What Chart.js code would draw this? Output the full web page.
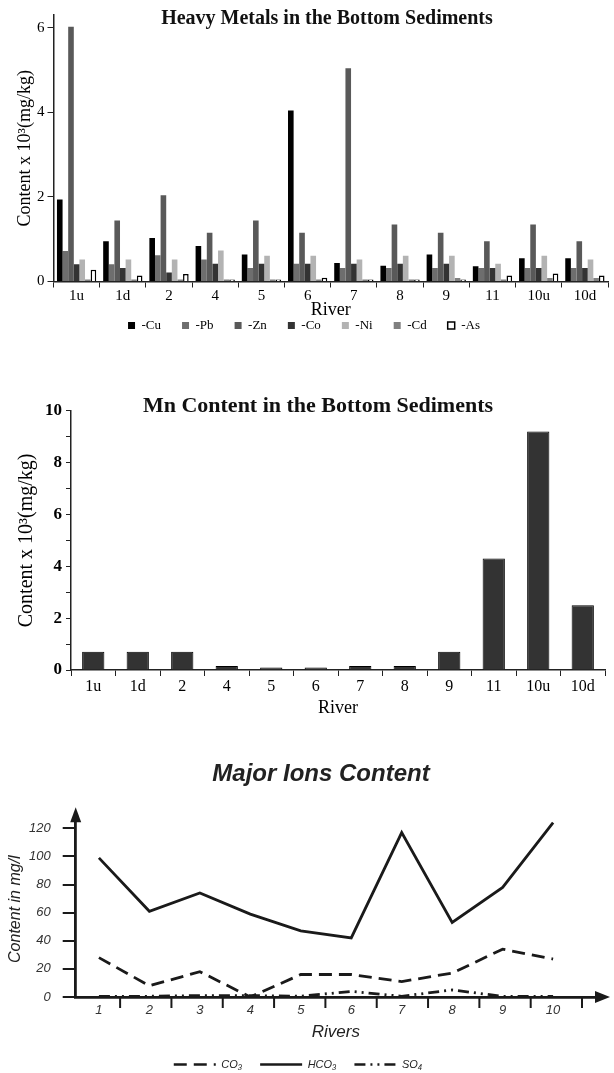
<!DOCTYPE html>
<html>
<head>
<meta charset="utf-8">
<script src="https://cdn.jsdelivr.net/npm/chart.js@4.4.0/dist/chart.umd.min.js"></script>
<style>
  body { margin: 0; background: #fff; width: 614px; height: 1073px; position: relative; overflow: hidden; }
  canvas { position: absolute; left: 0; }
  .ttl { position: absolute; white-space: nowrap; transform: translate(-50%, -50%); color: #111; }
  #t1 { left: 327px; top: 17px; font: bold 20px "Liberation Serif", serif; }
  #t2 { left: 318px; top: 405px; font: bold 22px "Liberation Serif", serif; }
  #t3 { left: 321px; top: 773px; font: italic bold 24px "Liberation Sans", sans-serif; color: #222; }
</style>
</head>
<body>
<canvas id="c1" width="614" height="342" style="top:0"></canvas>
<canvas id="c2" width="614" height="380" style="top:340px"></canvas>
<canvas id="c3" width="614" height="362" style="top:718px"></canvas>
<div class="ttl" id="t1">Heavy Metals in the Bottom Sediments</div>
<div class="ttl" id="t2">Mn Content in the Bottom Sediments</div>
<div class="ttl" id="t3">Major Ions Content</div>
<script>
// ─── Data ────────────────────────────────────────────────────────────────────
const rivers = ["1u", "1d", "2", "4", "5", "6", "7", "8", "9", "11", "10u", "10d"];
const metalNames = ["Cu", "Pb", "Zn", "Co", "Ni", "Cd", "As"];
const cuVals = [1.94, 0.95, 1.03, 0.84, 0.64, 4.04, 0.44, 0.37, 0.64, 0.36, 0.55, 0.55];
const pbVals = [0.72, 0.41, 0.62, 0.52, 0.32, 0.42, 0.32, 0.32, 0.32, 0.32, 0.32, 0.32];
const znVals = [6.02, 1.44, 2.04, 1.15, 1.44, 1.15, 5.04, 1.35, 1.15, 0.95, 1.35, 0.95];
const coVals = [0.41, 0.32, 0.21, 0.42, 0.42, 0.42, 0.42, 0.42, 0.42, 0.32, 0.32, 0.32];
const niVals = [0.52, 0.52, 0.52, 0.73, 0.61, 0.61, 0.52, 0.61, 0.61, 0.42, 0.61, 0.52];
const cdVals = [0.05, 0.05, 0.05, 0.05, 0.05, 0.05, 0.05, 0.05, 0.08, 0.05, 0.08, 0.08];
const asVals = [0.28, 0.14, 0.18, 0.05, 0.05, 0.09, 0.05, 0.05, 0.05, 0.14, 0.19, 0.14];

const mnVals = [0.7, 0.7, 0.7, 0.15, 0.1, 0.1, 0.15, 0.15, 0.7, 4.3, 9.2, 2.5];

const ionRivers = [1, 2, 3, 4, 5, 6, 7, 8, 9, 10];
const co3Vals  = [28, 8, 18, 0, 16, 16, 11, 17, 34, 27];
const hco3Vals = [99, 61, 74, 59, 47, 42, 117, 53, 78, 124];
const so4Vals  = [0.5, 0.5, 1, 1, 0.5, 4, 0.5, 5, 0.5, 0.5];

// ─── Shared ──────────────────────────────────────────────────────────────────
const SERIF = "'Liberation Serif', 'Times New Roman', serif";
const SANS  = "'Liberation Sans', Arial, sans-serif";
Chart.defaults.color = "#111";
Chart.defaults.animation = false;
Chart.defaults.plugins.tooltip.enabled = false;

const metalColors = ["#000000", "#6e6e6e", "#595959", "#333333", "#b3b3b3", "#808080", "#ffffff"];
const metalSeries = [cuVals, pbVals, znVals, coVals, niVals, cdVals, asVals];

// ─── Heavy metals ────────────────────────────────────────────────────────────
new Chart(document.getElementById("c1"), {
  type: "bar",
  data: {
    labels: rivers,
    datasets: metalNames.map((name, i) => ({
      label: name,
      data: metalSeries[i],
      backgroundColor: metalColors[i],
      borderColor: "#000",
      borderWidth: name === "As" ? 1.5 : 0,
      barPercentage: 1,
      categoryPercentage: 0.85
    }))
  },
  options: {
    responsive: false,
    devicePixelRatio: 1,
    layout: { padding: { top: 15, right: 6, left: 0, bottom: 0 } },
    plugins: {
      legend: {
        position: "bottom",
        labels: {
          color: "#000",
          font: { family: SERIF, size: 13 },
          boxWidth: 7, boxHeight: 7, padding: 21,
          generateLabels(chart) {
            return Chart.defaults.plugins.legend.labels.generateLabels(chart)
              .map(l => ({ ...l, text: "-" + l.text }));
          }
        }
      }
    },
    scales: {
      x: {
        // short box so the legend sits close; labels are allowed to overflow it
        afterFit(s) { s.height = 16.5; s._computeLabelArea = () => undefined; },
        grid: { display: true, drawOnChartArea: false, offset: true, tickLength: 6, color: "#222" },
        border: { display: true, color: "#222", width: 1.5 },
        ticks: { font: { family: SERIF, size: 15 }, color: "#000", padding: 0 },
        title: { display: true, text: "River", font: { family: SERIF, size: 18 }, color: "#000",
                 padding: { top: 0, bottom: -22.8 } }
      },
      y: {
        min: 0, max: 6.3,
        afterFit(s) { s.width = 53.5; },
        grid: { display: true, drawOnChartArea: false, tickLength: 6, color: "#222" },
        border: { display: true, color: "#222", width: 1.5 },
        ticks: { stepSize: 2, includeBounds: false, font: { family: SERIF, size: 15 }, color: "#000", padding: 3 },
        title: { display: true, text: "Content x 10³(mg/kg)", font: { family: SERIF, size: 18 }, color: "#000",
                 padding: { top: 14.7, bottom: 0 } }
      }
    }
  }
});

// ─── Mn ──────────────────────────────────────────────────────────────────────
new Chart(document.getElementById("c2"), {
  type: "bar",
  data: {
    labels: rivers,
    datasets: [{
      label: "Mn",
      data: mnVals,
      backgroundColor: "#333333",
      borderColor: "#000",
      borderWidth: 1,
      barPercentage: 0.5,
      categoryPercentage: 1
    }]
  },
  options: {
    responsive: false,
    devicePixelRatio: 1,
    layout: { padding: { top: 70.7, right: 9, left: 0, bottom: 0 } },
    plugins: { legend: { display: false } },
    scales: {
      x: {
        afterFit(s) { s.height = 50; },
        grid: { display: true, drawOnChartArea: false, offset: true, tickLength: 6, color: "#222" },
        border: { display: true, color: "#222", width: 1.5 },
        ticks: { font: { family: SERIF, size: 16 }, color: "#000", padding: 1 },
        title: { display: true, text: "River", font: { family: SERIF, size: 18 }, color: "#000",
                 padding: { top: 0, bottom: 1 } }
      },
      y: {
        min: 0, max: 10,
        afterFit(s) { s.width = 71; },
        grid: { display: true, drawOnChartArea: false, tickLength: 5, color: "#222" },
        border: { display: true, color: "#222", width: 1.5 },
        ticks: {
          stepSize: 1, font: { family: SERIF, size: 17, weight: "bold" }, color: "#000", padding: 4,
          callback: v => (v % 2 === 0 ? v : "")
        },
        title: { display: true, text: "Content x 10³(mg/kg)", font: { family: SERIF, size: 20 }, color: "#000",
                 padding: { top: 14.5, bottom: 0 } }
      }
    }
  }
});

// ─── Major ions ──────────────────────────────────────────────────────────────
// arrow heads on both axes and the short marks between river numbers
const ionAxes = {
  id: "ionAxes",
  afterDraw(chart) {
    const { ctx, chartArea: a, scales: { x } } = chart;
    ctx.save();
    ctx.fillStyle = ctx.strokeStyle = "#1a1a1a";
    ctx.lineWidth = 2;
    ionRivers.forEach(r => {
      const px = x.getPixelForValue(r + 0.42 + (r - 1) * 0.017);
      ctx.beginPath();
      ctx.moveTo(px, a.bottom);
      ctx.lineTo(px, a.bottom + 11);
      ctx.stroke();
    });
    ctx.beginPath();
    ctx.moveTo(a.left, a.top - 14);
    ctx.lineTo(a.left - 5.5, a.top + 1);
    ctx.lineTo(a.left + 5.5, a.top + 1);
    ctx.closePath();
    ctx.fill();
    ctx.beginPath();
    ctx.moveTo(a.right + 14, a.bottom);
    ctx.lineTo(a.right - 1, a.bottom - 6);
    ctx.lineTo(a.right - 1, a.bottom + 6);
    ctx.closePath();
    ctx.fill();
    ctx.restore();
  }
};

const ionLine = (label, vals, dash) => ({
  label,
  data: vals.map((v, i) => ({ x: ionRivers[i], y: v })),
  borderColor: "#1a1a1a",
  backgroundColor: "#1a1a1a",
  borderWidth: 2.8,
  borderDash: dash,
  pointRadius: 0,
  tension: 0
});

new Chart(document.getElementById("c3"), {
  type: "line",
  data: {
    datasets: [
      ionLine("CO₃", co3Vals, [13, 7]),
      ionLine("HCO₃", hco3Vals, []),
      ionLine("SO₄", so4Vals, [11, 5, 2, 5, 2, 5])
    ]
  },
  options: {
    responsive: false,
    devicePixelRatio: 1,
    layout: { padding: { top: 103.3, right: 18, left: 0, bottom: 0 } },
    plugins: {
      legend: {
        position: "bottom",
        labels: {
          color: "#222",
          font: { family: SANS, size: 11, style: "italic" },
          usePointStyle: true, pointStyle: "line", pointStyleWidth: 42, padding: 18,
          generateLabels(chart) {
            return Chart.defaults.plugins.legend.labels.generateLabels(chart).map(l => {
              const ds = chart.data.datasets[l.datasetIndex];
              return { ...l, lineDash: ds.borderDash, lineWidth: 2.5, strokeStyle: ds.borderColor };
            });
          }
        }
      }
    },
    scales: {
      x: {
        type: "linear",
        min: 0.54, max: 10.85,
        afterFit(s) { s.height = 44; },
        afterBuildTicks(s) { s.ticks = ionRivers.map(v => ({ value: v })); },
        grid: { display: false, drawTicks: false },
        border: { display: true, color: "#1a1a1a", width: 2.8 },
        ticks: { font: { family: SANS, size: 13, style: "italic" }, color: "#333", padding: 6 },
        title: { display: true, text: "Rivers", font: { family: SANS, size: 17, style: "italic" }, color: "#222",
                 padding: { top: 0, bottom: -1.7 } }
      },
      y: {
        min: 0, max: 125,
        afterFit(s) { s.width = 75.7; },
        grid: { display: true, drawOnChartArea: false, tickLength: 13, color: "#1a1a1a", lineWidth: 2 },
        border: { display: true, color: "#1a1a1a", width: 2.8 },
        ticks: { stepSize: 20, includeBounds: false, font: { family: SANS, size: 13, style: "italic" }, color: "#333", padding: 12 },
        title: { display: true, text: "Content in mg/l", font: { family: SANS, size: 16, style: "italic" }, color: "#222",
                 padding: { top: 6, bottom: 0 } }
      }
    }
  },
  plugins: [ionAxes]
});
</script>
</body>
</html>
